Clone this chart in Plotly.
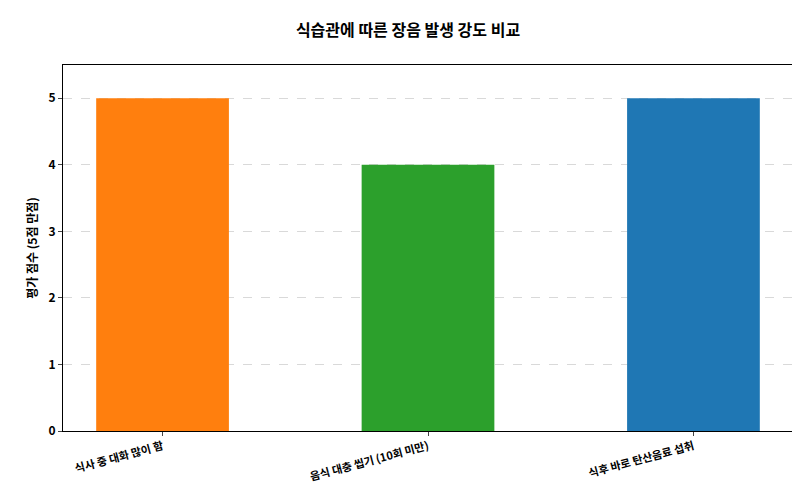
import plotly.graph_objects as go

habits = ["식사 중 대화 많이 함", "음식 대충 씹기 (10회 미만)", "식후 바로 탄산음료 섭취"]
scores = [5, 4, 5]
colors = ["#ff7f0e", "#2ca02c", "#1f77b4"]

fig = go.Figure()
fig.add_trace(go.Bar(x=list(range(len(habits))), y=scores, width=0.5,
                     marker=dict(color=colors, line=dict(width=0))))

fig.update_layout(
    width=800, height=500,
    margin=dict(l=55, r=15, t=57, b=77, autoexpand=False),
    plot_bgcolor="white", paper_bgcolor="white",
    font=dict(family="Noto Sans CJK KR", size=12, color="black"),
    title=dict(text="<b>식습관에 따른 장음 발생 강도 비교</b>", x=0.5, xanchor="center",
               y=0.955, yanchor="middle", font=dict(size=16)),
    showlegend=False,
)
fig.update_xaxes(range=[-0.375, 2.375], tickvals=[0, 1, 2], ticktext=habits,
                 tickangle=-15, showline=True, linecolor="black", mirror=True,
                 ticks="outside", ticklen=4, automargin=False,
                 tickfont=dict(size=11, weight="bold"), showgrid=False)
fig.update_yaxes(range=[0, 5.5], dtick=1, showline=True, linecolor="black", mirror=True,
                 ticks="outside", ticklen=4, showgrid=True, gridcolor="#d9d9d9",
                 griddash="dash", zeroline=False, automargin=False,
                 tickfont=dict(size=12, weight="bold"),
                 title=dict(text="<b>평가 점수 (5점 만점)</b>", font=dict(size=12), standoff=8))

fig.write_html("out.html")
